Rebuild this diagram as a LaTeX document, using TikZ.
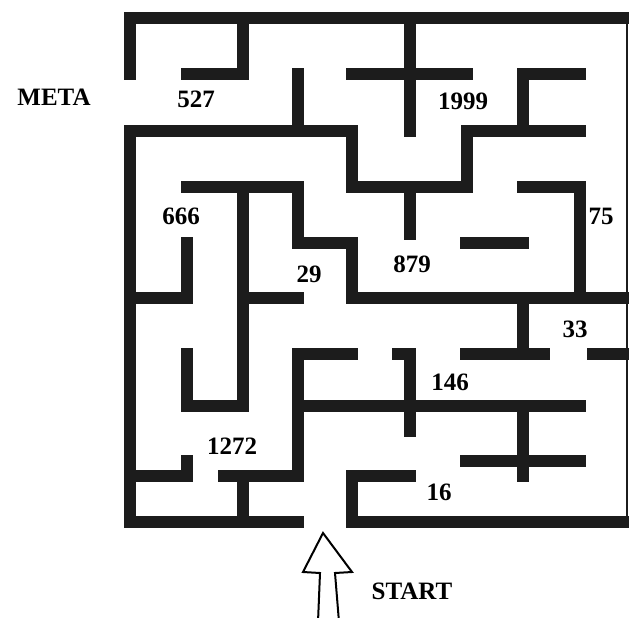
\documentclass[tikz,border=0pt]{standalone}
\usepackage{fontspec}
\setmainfont{Liberation Serif}
\usepackage{tikz}
\usetikzlibrary{positioning}
\definecolor{wallgray}{RGB}{28,28,28}

\begin{document}
\begin{tikzpicture}[
    x=1pt, y=-1pt,
    wall/.style={draw=wallgray, line width=12pt, line cap=rect, line join=miter},
    rim/.style={draw=wallgray, line width=2.5pt},
    lbl/.style={font=\fontsize{25}{29}\selectfont\bfseries, inner sep=0pt},
    startarrow/.style={draw=black, line width=2pt, fill=white, line join=miter}
]
    \useasboundingbox (0,0) rectangle (629,618);

    % outer frame
    \draw[wall] (130,74) -- (130,18) -- (623,18);
    \draw[wall] (130,131) -- (130,522) -- (298,522);
    \draw[wall] (352,522) -- (623,522);
    \draw[rim] (627,18) -- (627,522);

    % top rows
    \draw[wall] (187,74) -- (243,74) -- (243,18);
    \draw[wall] (298,74) -- (298,131);
    \draw[wall] (352,74) -- (467,74);
    \draw[wall] (410,18) -- (410,131);
    \draw[wall] (580,74) -- (523,74) -- (523,131);
    \draw[wall] (130,131) -- (352,131) -- (352,187) -- (467,187) -- (467,131) -- (580,131);

    % middle
    \draw[wall] (187,187) -- (298,187) -- (298,243) -- (352,243) -- (352,298) -- (623,298);
    \draw[wall] (243,187) -- (243,406) -- (187,406) -- (187,354);
    \draw[wall] (187,243) -- (187,298) -- (130,298);
    \draw[wall] (243,298) -- (298,298);
    \draw[wall] (410,187) -- (410,234);
    \draw[wall] (466,243) -- (523,243);
    \draw[wall] (523,187) -- (580,187) -- (580,298);
    \draw[wall] (523,298) -- (523,354);
    \draw[wall] (466,354) -- (544,354);
    \draw[wall] (593,354) -- (623,354);

    % bottom rows
    \draw[wall] (352,354) -- (298,354) -- (298,476) -- (224,476);
    \draw[wall] (243,476) -- (243,522);
    \draw[wall] (298,406) -- (580,406);
    \draw[wall] (398,354) -- (410,354) -- (410,431);
    \draw[wall] (523,406) -- (523,476);
    \draw[wall] (466,461) -- (580,461);
    \draw[wall] (410,476) -- (352,476) -- (352,522);
    \draw[wall] (130,476) -- (187,476) -- (187,461);

    % entrance arrow
    \draw[startarrow] (323,533) -- (352,572) -- (335,573) -- (339,622) -- (318,622) -- (320,573) -- (303,572) -- cycle;

    % labels
    \node[lbl] (meta) at (54,97) {META};
    \node[lbl] (start) at (412,591) {START};
    \node[lbl] (n527) at (196,99) {527};
    \node[lbl] (n1999) at (463,101) {1999};
    \node[lbl] (n666) at (181,216) {666};
    \node[lbl] (n29) at (309,274) {29};
    \node[lbl] (n879) at (412,264) {879};
    \node[lbl] (n75) at (601,216) {75};
    \node[lbl] (n33) at (575,329) {33};
    \node[lbl] (n146) at (450,382) {146};
    \node[lbl] (n1272) at (232,446) {1272};
    \node[lbl] (n16) at (439,492) {16};
\end{tikzpicture}
\end{document}
